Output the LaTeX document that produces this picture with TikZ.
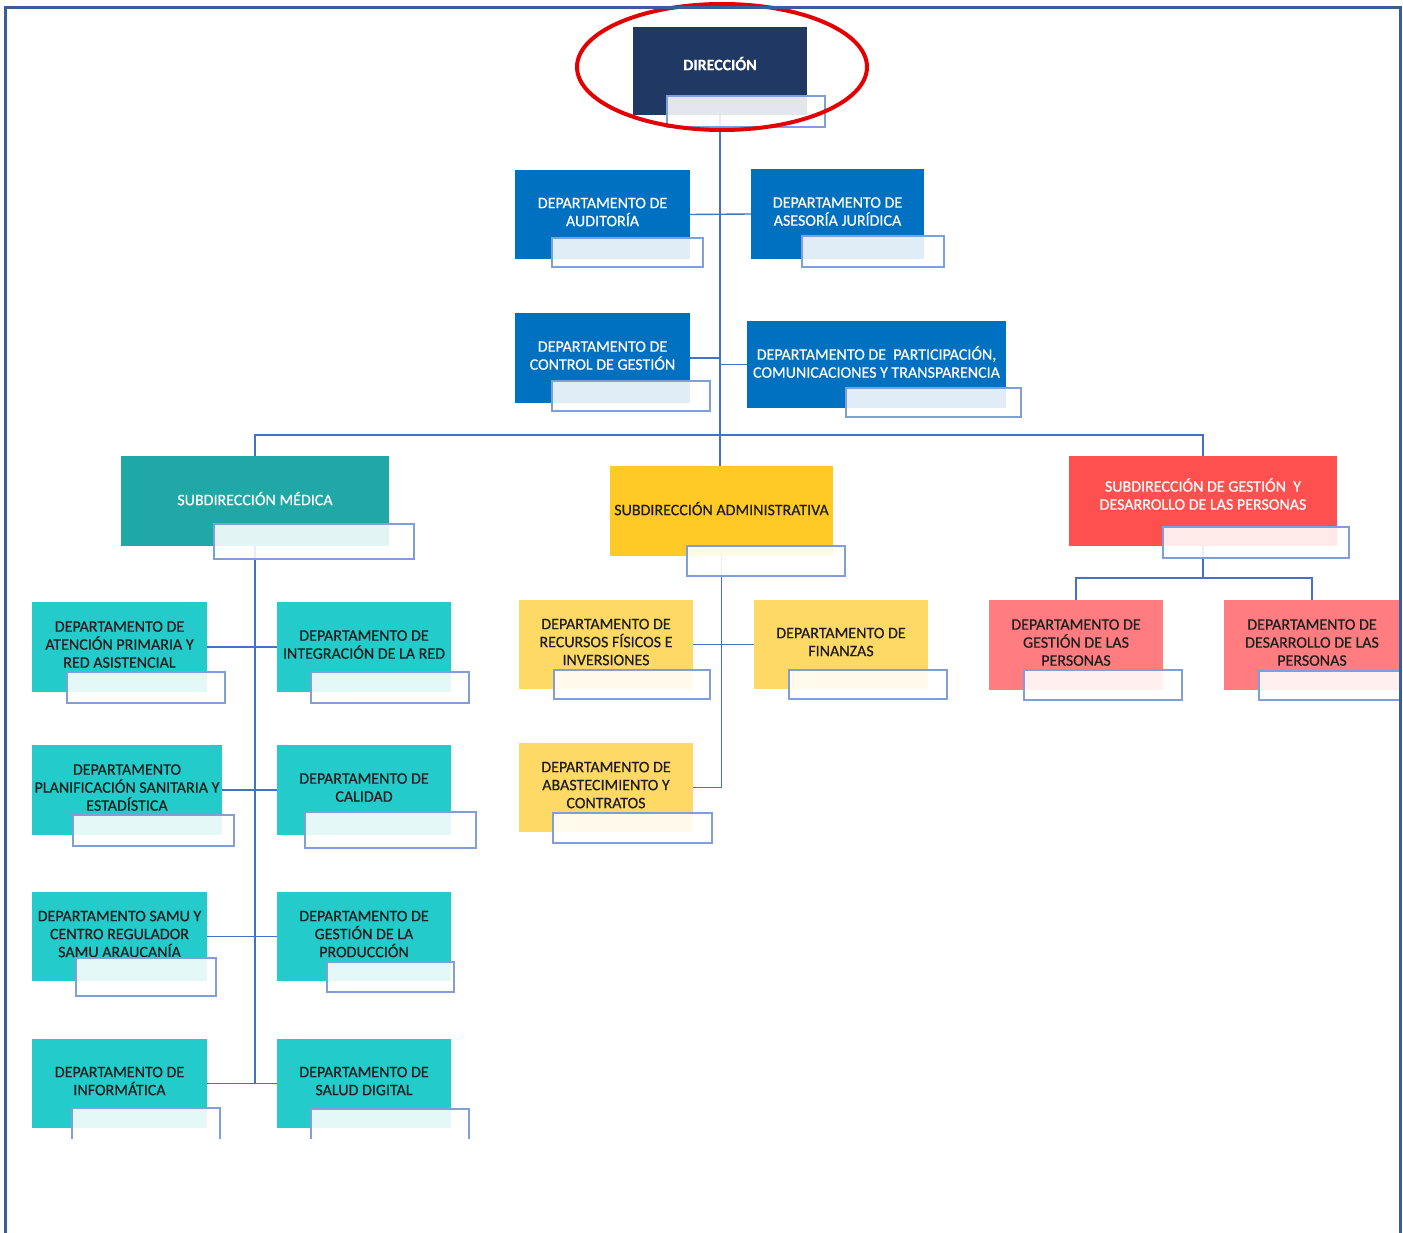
\documentclass[tikz,border=0pt]{standalone}
\usepackage{fontspec}
\setmainfont{Carlito}[FakeBold=0.3]
\newfontfamily\boxfont{Carlito}[FakeBold=0.45]
\usetikzlibrary{calc}
\definecolor{navy}{RGB}{32,56,100}
\definecolor{dblue}{RGB}{0,112,192}
\definecolor{teal1}{RGB}{31,168,165}
\definecolor{turq}{RGB}{35,203,203}
\definecolor{gold1}{RGB}{255,201,38}
\definecolor{gold2}{RGB}{255,217,102}
\definecolor{red1}{RGB}{255,80,80}
\definecolor{pink1}{RGB}{255,124,128}
\definecolor{connc}{RGB}{68,114,196}
\definecolor{ovb}{RGB}{128,158,216}
\definecolor{framec}{RGB}{58,95,148}
\definecolor{darktext}{RGB}{30,30,30}
\definecolor{hlred}{RGB}{228,0,0}
\tikzset{
  box/.style={anchor=north west, inner sep=0pt, outer sep=0pt, align=center,
    text depth=5pt, font=\boxfont\fontsize{16}{18}\selectfont},
  lightbox/.style={box, text=white},
  darkbox/.style={box, text=darktext},
  ov/.style={anchor=north west, inner sep=0pt, outer sep=0pt, draw=ovb, line width=1.5pt,
    fill=white, fill opacity=0.88, draw opacity=1},
  conn/.style={draw=connc, line width=1.4pt},
  framel/.style={draw=framec, line width=3pt},
}
\begin{document}
\begin{tikzpicture}[x=1pt,y=-1pt]
\useasboundingbox (0,0) rectangle (1403,1233);
\fill[white] (0,0) rectangle (1403,1233);
\begin{scope}
\clip (0,0) rectangle (1400,1138);
% main boxes
\node[lightbox, fill=navy, minimum width=174pt, minimum height=88pt, text depth=15pt, font=\fontsize{16}{18}\selectfont\bfseries] (dir) at (633,27) {DIRECCIÓN};
\node[lightbox, fill=dblue, minimum width=175pt, minimum height=89pt] (aud) at (515,170) {DEPARTAMENTO DE\\AUDITORÍA};
\node[lightbox, fill=dblue, minimum width=173pt, minimum height=90pt] (asj) at (751,169) {DEPARTAMENTO DE\\ASESORÍA JURÍDICA};
\node[lightbox, fill=dblue, minimum width=175pt, minimum height=90pt] (ctl) at (515,313) {DEPARTAMENTO DE\\CONTROL DE GESTIÓN};
\node[lightbox, fill=dblue, minimum width=259pt, minimum height=87pt] (par) at (747,321) {DEPARTAMENTO DE\ \ PARTICIPACIÓN,\\COMUNICACIONES Y TRANSPARENCIA};
\node[lightbox, fill=teal1, minimum width=268pt, minimum height=90pt] (med) at (121,456) {SUBDIRECCIÓN MÉDICA};
\node[darkbox, fill=gold1, minimum width=223pt, minimum height=90pt] (adm) at (610,466) {SUBDIRECCIÓN ADMINISTRATIVA};
\node[lightbox, fill=red1, minimum width=268pt, minimum height=90pt, text depth=14pt] (sgp) at (1069,456) {SUBDIRECCIÓN DE GESTIÓN\ \ Y\\DESARROLLO DE LAS PERSONAS};
\node[darkbox, fill=turq, minimum width=175pt, minimum height=90pt] (ate) at (32,602) {DEPARTAMENTO DE\\ATENCIÓN PRIMARIA Y\\RED ASISTENCIAL};
\node[darkbox, fill=turq, minimum width=174pt, minimum height=90pt] (int) at (277,602) {DEPARTAMENTO DE\\INTEGRACIÓN DE LA RED};
\node[darkbox, fill=turq, minimum width=190pt, minimum height=90pt] (pla) at (32,745) {DEPARTAMENTO\\PLANIFICACIÓN SANITARIA Y\\ESTADÍSTICA};
\node[darkbox, fill=turq, minimum width=174pt, minimum height=90pt] (cal) at (277,745) {DEPARTAMENTO DE\\CALIDAD};
\node[darkbox, fill=turq, minimum width=175pt, minimum height=89pt] (sam) at (32,892) {DEPARTAMENTO SAMU Y\\CENTRO REGULADOR\\SAMU ARAUCANÍA};
\node[darkbox, fill=turq, minimum width=174pt, minimum height=89pt] (pro) at (277,892) {DEPARTAMENTO DE\\GESTIÓN DE LA\\PRODUCCIÓN};
\node[darkbox, fill=turq, minimum width=175pt, minimum height=89pt] (inf) at (32,1039) {DEPARTAMENTO DE\\INFORMÁTICA};
\node[darkbox, fill=turq, minimum width=174pt, minimum height=89pt] (sal) at (277,1039) {DEPARTAMENTO DE\\SALUD DIGITAL};
\node[darkbox, fill=gold2, minimum width=174pt, minimum height=89pt] (rec) at (519,600) {DEPARTAMENTO DE\\RECURSOS FÍSICOS E\\INVERSIONES};
\node[darkbox, fill=gold2, minimum width=174pt, minimum height=89pt] (fin) at (754,600) {DEPARTAMENTO DE\\FINANZAS};
\node[darkbox, fill=gold2, minimum width=174pt, minimum height=89pt] (abs) at (519,743) {DEPARTAMENTO DE\\ABASTECIMIENTO Y\\CONTRATOS};
\node[darkbox, fill=pink1, minimum width=174pt, minimum height=90pt] (gdp) at (989,600) {DEPARTAMENTO DE\\GESTIÓN DE LAS\\PERSONAS};
\node[darkbox, fill=pink1, minimum width=176pt, minimum height=90pt] (ddp) at (1224,600) {DEPARTAMENTO DE\\DESARROLLO DE LAS\\PERSONAS};
% connectors
\coordinate (bus) at (720,435);
\coordinate (gbus) at (1203,578);
\draw[conn] (dir.south) -- (dir.south |- adm.north);
\draw[conn] (aud.east) -- (asj.west);
\draw[conn] (ctl.east) -- (ctl.east -| dir.south);
\draw[conn] (par.west) -- (par.west -| dir.south);
\draw[conn] (med.north) |- (bus) -| (sgp.north);
\draw[conn] (med.south) -- (med.south |- inf.east);
\draw[conn] (ate.east) -- (int.west);
\draw[conn] (pla.east) -- (cal.west);
\draw[conn] (sam.east) -- (pro.west);
\draw[conn] (inf.east) -- (sal.west);
\draw[conn] (adm.south) |- (abs.east);
\draw[conn] (rec.east) -- (fin.west);
\draw[conn] (sgp.south) -- (gbus);
\draw[conn] (gdp.north) |- (gbus) -| (ddp.north);
% overlay boxes
\node[ov, minimum width=158pt, minimum height=31pt] (dir-o) at (667,96) {};
\node[ov, minimum width=151pt, minimum height=29pt] (aud-o) at (552,238) {};
\node[ov, minimum width=142pt, minimum height=31pt] (asj-o) at (802,236) {};
\node[ov, minimum width=158pt, minimum height=30pt] (ctl-o) at (552,381) {};
\node[ov, minimum width=175pt, minimum height=29pt] (par-o) at (846,388) {};
\node[ov, minimum width=200pt, minimum height=35pt] (med-o) at (214,524) {};
\node[ov, minimum width=158pt, minimum height=30pt] (adm-o) at (687,546) {};
\node[ov, minimum width=186pt, minimum height=31pt] (sgp-o) at (1163,527) {};
\node[ov, minimum width=158pt, minimum height=31pt] (ate-o) at (67,672) {};
\node[ov, minimum width=158pt, minimum height=31pt] (int-o) at (311,672) {};
\node[ov, minimum width=161pt, minimum height=31pt] (pla-o) at (73,815) {};
\node[ov, minimum width=171pt, minimum height=36pt] (cal-o) at (305,812) {};
\node[ov, minimum width=140pt, minimum height=38pt] (sam-o) at (76,958) {};
\node[ov, minimum width=127pt, minimum height=30pt] (pro-o) at (327,962) {};
\node[ov, minimum width=148pt, minimum height=45pt] (inf-o) at (72,1108) {};
\node[ov, minimum width=158pt, minimum height=45pt] (sal-o) at (311,1109) {};
\node[ov, minimum width=156pt, minimum height=29pt] (rec-o) at (554,670) {};
\node[ov, minimum width=158pt, minimum height=29pt] (fin-o) at (789,670) {};
\node[ov, minimum width=159pt, minimum height=30pt] (abs-o) at (553,813) {};
\node[ov, minimum width=158pt, minimum height=30pt] (gdp-o) at (1024,670) {};
\node[ov, minimum width=160pt, minimum height=29pt] (ddp-o) at (1259,671) {};
% highlight
\draw[hlred, line width=4pt] (722,67) ellipse [x radius=145, y radius=63];
\end{scope}
% frame
\draw[framel] (5,1233) -- (5,8) -- (1400,8) -- (1400,1233);
\end{tikzpicture}
\end{document}
